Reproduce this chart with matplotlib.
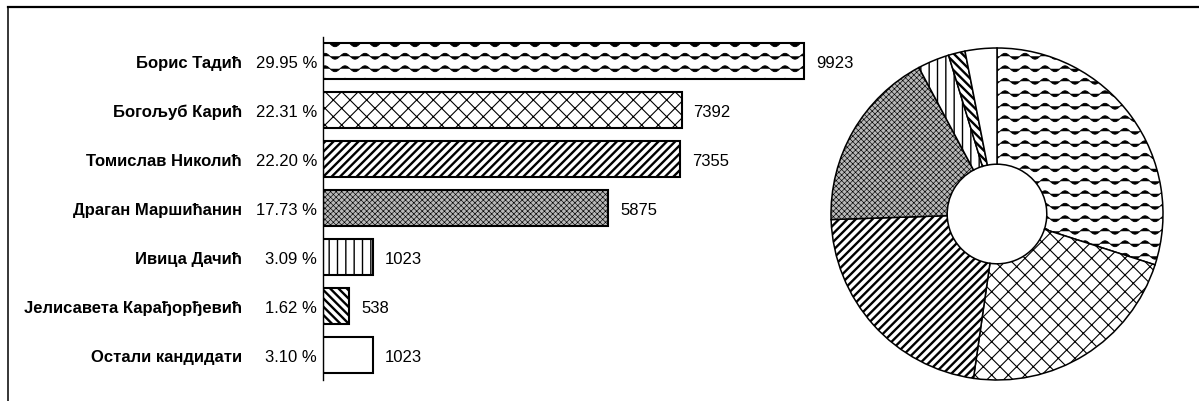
import warnings
import numpy as np
import matplotlib
matplotlib.use('Agg')
import matplotlib.pyplot as plt
import matplotlib.hatch as mhatch
from matplotlib.path import Path
from matplotlib.lines import Line2D

warnings.filterwarnings('ignore')

candidates = ['Борис Тадић', 'Богољуб Карић', 'Томислав Николић', 'Драган Маршићанин',
              'Ивица Дачић', 'Јелисавета Карађорђевић', 'Остали кандидати']
votes = [9923, 7392, 7355, 5875, 1023, 538, 1023]
percents = ['29.95 %', '22.31 %', '22.20 %', '17.73 %', '3.09 %', '1.62 %', '3.10 %']

hatches = ['~', 'xx', '////', 'xxxxxx', '||', '\\\\\\\\', '']
faces = ['white', 'white', 'white', '#b8b8b8', 'white', 'white', 'white']
hatch_lw = [0.6, 0.8, 1.7, 0.45, 1.0, 1.7, 1.0]


class WaveHatch(mhatch.HatchPatternBase):
    # wavy lines for '~'
    def __init__(self, hatch, density):
        self.num_lines = int(hatch.count('~') * density * 4 / 3)
        self.num_pts = 81
        self.num_vertices = self.num_lines * self.num_pts

    def set_vertices_and_codes(self, vertices, codes):
        t = np.linspace(0, 1, self.num_pts)
        n = self.num_pts
        for k in range(self.num_lines):
            s = (k + 0.5) / self.num_lines
            vertices[k * n:(k + 1) * n, 0] = t
            vertices[k * n:(k + 1) * n, 1] = s + 0.03 * np.sin(2 * np.pi * 5 * t)
            codes[k * n:(k + 1) * n] = Path.LINETO
            codes[k * n] = Path.MOVETO


mhatch._hatch_types.append(WaveHatch)

plt.rcParams['font.family'] = ['Liberation Sans', 'DejaVu Sans']
plt.rcParams['font.size'] = 12


def set_hlw(p, lw):
    if hasattr(p, 'set_hatch_linewidth'):
        p.set_hatch_linewidth(lw)


def main():
    W, H = 1199, 401
    fig = plt.figure(figsize=(W / 100, H / 100), dpi=100)

    # bar chart
    ax = fig.add_axes([323 / W, (H - 380) / H, (808 - 323) / W, (380 - 36.5) / H])
    y_pos = list(range(len(votes)))
    bars = ax.barh(y_pos, votes, height=0.735, color='white', edgecolor='black', linewidth=1.5)
    for b, h, fc, lw in zip(bars, hatches, faces, hatch_lw):
        b.set_hatch(h)
        b.set_facecolor(fc)
        set_hlw(b, lw)
    ax.set_xlim(0, 10000)
    ax.set_ylim(6.5, -0.5)
    for s in ['top', 'right', 'bottom']:
        ax.spines[s].set_visible(False)
    ax.spines['left'].set_linewidth(1.0)
    ax.set_xticks([])
    ax.set_yticks([])

    for i, (name, pct, v) in enumerate(zip(candidates, percents, votes)):
        ax.annotate(name, xy=(0, i), xytext=(-81, -2), textcoords='offset pixels',
                    ha='right', va='center', fontweight='bold', annotation_clip=False)
        ax.annotate(pct, xy=(0, i), xytext=(-6, -2), textcoords='offset pixels',
                    ha='right', va='center', annotation_clip=False)
        ax.annotate(str(v), xy=(v, i), xytext=(12, -2), textcoords='offset pixels',
                    ha='left', va='center', annotation_clip=False)

    # donut chart
    r = 166
    cx, cy = 997, 214
    ax2 = fig.add_axes([(cx - r) / W, (H - cy - r) / H, 2 * r / W, 2 * r / H])
    wedges, _ = ax2.pie(votes, startangle=90, counterclock=False,
                        wedgeprops=dict(width=0.7, edgecolor='black', linewidth=1.1))
    for w, h, fc, lw in zip(wedges, hatches, faces, hatch_lw):
        w.set_hatch(h)
        w.set_facecolor(fc)
        set_hlw(w, lw)
        w.set_clip_on(False)
    ax2.set_xlim(-1, 1)
    ax2.set_ylim(-1, 1)
    ax2.set_aspect('equal')

    # frame lines
    fig.add_artist(Line2D([8 / W, 1], [1 - 7 / H, 1 - 7 / H], color='black', linewidth=1.6))
    fig.add_artist(Line2D([8 / W, 8 / W], [0, 1 - 7 / H], color='black', linewidth=1.1))

    fig.savefig('out.png', dpi=100)


if __name__ == "__main__":
    main()
